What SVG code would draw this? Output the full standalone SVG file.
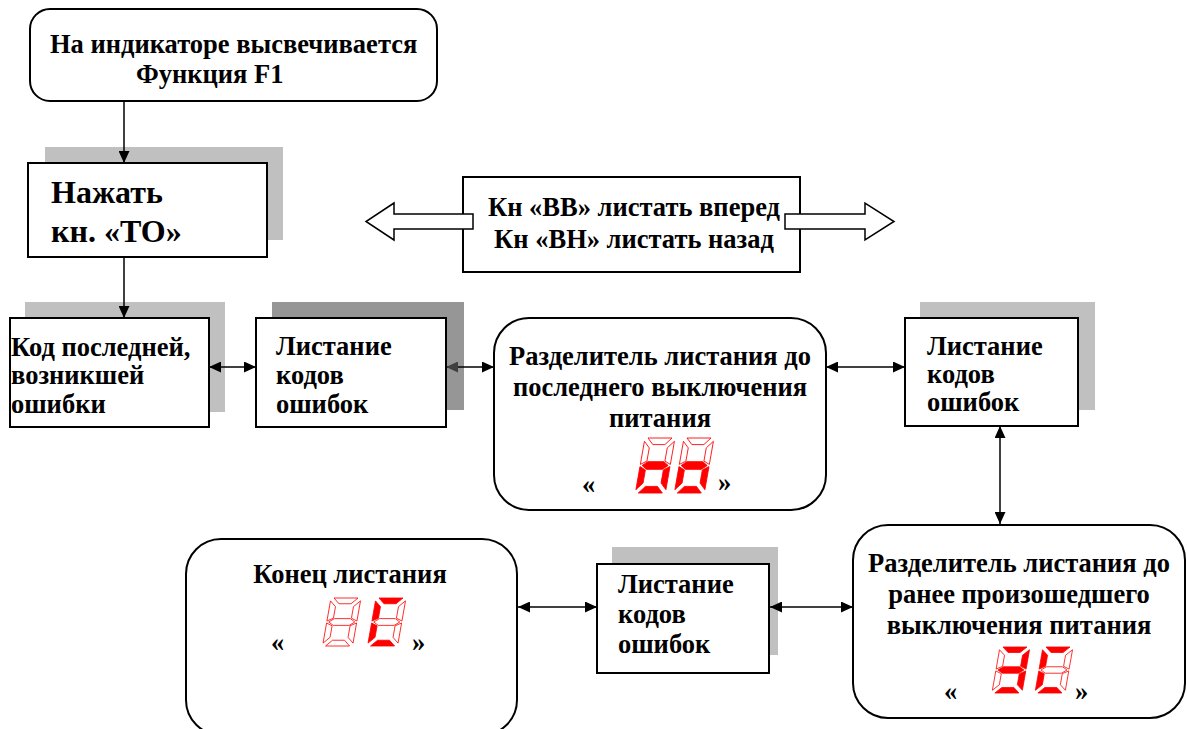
<svg xmlns="http://www.w3.org/2000/svg" width="1187" height="729" viewBox="0 0 1187 729">
<defs>
<style>
.box{fill:#fff;stroke:#000;stroke-width:2}
.sh{fill:#c0c0c0;stroke:none}
.shd{fill:#969696;stroke:none}
.t{font-family:"Liberation Serif","Times New Roman",serif;font-weight:bold;font-size:26.5px;fill:#000}
.tb{font-family:"Liberation Serif","Times New Roman",serif;font-weight:bold;font-size:32px;fill:#000}
.c{text-anchor:middle}
.ln{fill:none;stroke:#000;stroke-width:1.5}
.blk{fill:#fff;stroke:#000;stroke-width:1.5;stroke-linejoin:miter}
.on{fill:#f00;stroke:#f00;stroke-width:0.8}
.off{fill:#fff;stroke:#f00;stroke-width:0.8}
</style>
<marker id="ah" markerUnits="userSpaceOnUse" markerWidth="13" markerHeight="11" refX="12" refY="5.5" orient="auto-start-reverse"><path d="M0,0 L12,5.5 L0,11 Z" fill="#000"/></marker>
<marker id="ahg" markerUnits="userSpaceOnUse" markerWidth="13" markerHeight="11" refX="12" refY="5.5" orient="auto-start-reverse"><path d="M0,0 L12,5.5 L0,11 Z" fill="#404040"/></marker>
</defs>

<g id="shadows">
<rect class="sh" x="45" y="147" width="238" height="93"/>
<rect class="sh" x="25" y="302" width="200" height="110"/>
<rect class="shd" x="272" y="302" width="192" height="108"/>
<rect class="sh" x="920" y="302" width="175" height="108"/>
<rect class="sh" x="612" y="547" width="166" height="108"/>
</g>

<g id="connectors">
<line class="ln" x1="124" y1="100" x2="124" y2="163" marker-end="url(#ah)"/>
<line class="ln" x1="124" y1="257" x2="124" y2="318" marker-end="url(#ah)"/>
<line class="ln" x1="209" y1="367" x2="256" y2="367" marker-start="url(#ah)" marker-end="url(#ah)"/>
<line class="ln" x1="446" y1="367" x2="494" y2="367" marker-start="url(#ahg)" marker-end="url(#ah)"/>
<line class="ln" x1="826" y1="367" x2="905" y2="367" marker-start="url(#ah)" marker-end="url(#ah)"/>
<line class="ln" x1="1000" y1="426" x2="1000" y2="524" marker-start="url(#ah)" marker-end="url(#ah)"/>
<line class="ln" x1="770" y1="607" x2="853" y2="607" marker-start="url(#ah)" marker-end="url(#ah)"/>
<line class="ln" x1="518" y1="607" x2="597" y2="607" marker-start="url(#ah)" marker-end="url(#ah)"/>
</g>

<g id="n-top">
<rect class="box" x="30" y="9" width="407" height="92" rx="20"/>
<text class="t" x="50" y="53">На индикаторе высвечивается</text>
<text class="t" x="136" y="83">Функция F1</text>
</g>

<g id="n-press">
<rect class="box" x="28" y="163" width="239" height="94"/>
<text class="tb" x="51" y="203">Нажать</text>
<text class="tb" x="51" y="242">кн. «ТО»</text>
</g>

<g id="n-keys">
<rect class="box" x="463" y="177" width="337" height="95"/>
<text class="t c" x="634" y="216">Кн «ВВ» листать вперед</text>
<text class="t c" x="634" y="248">Кн «ВН» листать назад</text>
</g>
<g id="arrow-back">
<path class="blk" d="M473,214 L394,214 L394,203 L366,221.5 L394,240 L394,229 L473,229 Z"/>
</g>
<g id="arrow-fwd">
<path class="blk" d="M785,214 L865,214 L865,203 L894,221.5 L865,240 L865,229 L785,229 Z"/>
</g>

<g id="n-last">
<rect class="box" x="10" y="318" width="199" height="109"/>
<text class="t" x="11" y="356">Код последней,</text>
<text class="t" x="11" y="384">возникшей</text>
<text class="t" x="11" y="413">ошибки</text>
</g>

<g id="n-list1">
<rect class="box" x="256" y="318" width="190" height="109"/>
<text class="t" x="276" y="355">Листание</text>
<text class="t" x="276" y="384">кодов</text>
<text class="t" x="276" y="413">ошибок</text>
</g>

<g id="n-sep1">
<rect class="box" x="494" y="318" width="332" height="192" rx="35"/>
<text class="t c" x="660" y="365">Разделитель листания до</text>
<text class="t c" x="660" y="396">последнего выключения</text>
<text class="t c" x="660" y="427">питания</text>
<text class="t" x="582" y="493">«</text>
<text class="t" x="718" y="491">»</text>
<g transform="translate(645,438) skewX(-10) scale(1,1.1)">
<polygon class="off" points="3,0 27,0 21,6 9,6"/>
<polygon class="off" points="30,3 30,24 24,21 24,9"/>
<polygon class="on" points="30,26 30,47 24,41 24,29"/>
<polygon class="on" points="3,50 27,50 21,44 9,44"/>
<polygon class="on" points="0,26 6,29 6,41 0,47"/>
<polygon class="off" points="0,3 6,9 6,21 0,24"/>
<polygon class="on" points="2,25 7,21.5 23,21.5 28,25 23,28.5 7,28.5"/>
</g>
<g transform="translate(684,438) skewX(-10) scale(1,1.1)">
<polygon class="off" points="3,0 27,0 21,6 9,6"/>
<polygon class="off" points="30,3 30,24 24,21 24,9"/>
<polygon class="on" points="30,26 30,47 24,41 24,29"/>
<polygon class="on" points="3,50 27,50 21,44 9,44"/>
<polygon class="on" points="0,26 6,29 6,41 0,47"/>
<polygon class="off" points="0,3 6,9 6,21 0,24"/>
<polygon class="on" points="2,25 7,21.5 23,21.5 28,25 23,28.5 7,28.5"/>
</g>
</g>

<g id="n-list2">
<rect class="box" x="905" y="318" width="173" height="108"/>
<text class="t" x="927" y="355">Листание</text>
<text class="t" x="927" y="383">кодов</text>
<text class="t" x="927" y="411">ошибок</text>
</g>

<g id="n-sep2">
<rect class="box" x="853" y="525" width="332" height="193" rx="35"/>
<text class="t c" x="1019" y="572">Разделитель листания до</text>
<text class="t c" x="1019" y="603">ранее произошедшего</text>
<text class="t c" x="1019" y="634">выключения питания</text>
<text class="t" x="944" y="700">«</text>
<text class="t" x="1075" y="700">»</text>
<g transform="translate(1000,647) skewX(-10) scale(1,0.92)">
<polygon class="on" points="3,0 27,0 21,6 9,6"/>
<polygon class="on" points="30,3 30,24 24,21 24,9"/>
<polygon class="on" points="30,26 30,47 24,41 24,29"/>
<polygon class="on" points="3,50 27,50 21,44 9,44"/>
<polygon class="off" points="0,26 6,29 6,41 0,47"/>
<polygon class="off" points="0,3 6,9 6,21 0,24"/>
<polygon class="on" points="2,25 7,21.5 23,21.5 28,25 23,28.5 7,28.5"/>
</g>
<g transform="translate(1043,647) skewX(-10) scale(1,0.92)">
<polygon class="on" points="3,0 27,0 21,6 9,6"/>
<polygon class="off" points="30,3 30,24 24,21 24,9"/>
<polygon class="off" points="30,26 30,47 24,41 24,29"/>
<polygon class="on" points="3,50 27,50 21,44 9,44"/>
<polygon class="on" points="0,26 6,29 6,41 0,47"/>
<polygon class="on" points="0,3 6,9 6,21 0,24"/>
<polygon class="off" points="2,25 7,21.5 23,21.5 28,25 23,28.5 7,28.5"/>
</g>
</g>

<g id="n-list3">
<rect class="box" x="597" y="564" width="172" height="109"/>
<text class="t" x="618" y="593">Листание</text>
<text class="t" x="618" y="623">кодов</text>
<text class="t" x="618" y="653">ошибок</text>
</g>

<g id="n-end">
<rect class="box" x="186" y="539" width="331" height="196" rx="35"/>
<text class="t c" x="350" y="583">Конец листания</text>
<text class="t" x="271" y="651">«</text>
<text class="t" x="412" y="651">»</text>
<g transform="translate(331,598) skewX(-10) scale(1,0.96)">
<polygon class="off" points="3,0 27,0 21,6 9,6"/>
<polygon class="off" points="30,3 30,24 24,21 24,9"/>
<polygon class="off" points="30,26 30,47 24,41 24,29"/>
<polygon class="off" points="3,50 27,50 21,44 9,44"/>
<polygon class="off" points="0,26 6,29 6,41 0,47"/>
<polygon class="off" points="0,3 6,9 6,21 0,24"/>
<polygon class="off" points="2,25 7,21.5 23,21.5 28,25 23,28.5 7,28.5"/>
</g>
<g transform="translate(376,598) skewX(-10) scale(1,0.96)">
<polygon class="on" points="3,0 27,0 21,6 9,6"/>
<polygon class="off" points="30,3 30,24 24,21 24,9"/>
<polygon class="off" points="30,26 30,47 24,41 24,29"/>
<polygon class="on" points="3,50 27,50 21,44 9,44"/>
<polygon class="on" points="0,26 6,29 6,41 0,47"/>
<polygon class="on" points="0,3 6,9 6,21 0,24"/>
<polygon class="off" points="2,25 7,21.5 23,21.5 28,25 23,28.5 7,28.5"/>
</g>
</g>
</svg>
